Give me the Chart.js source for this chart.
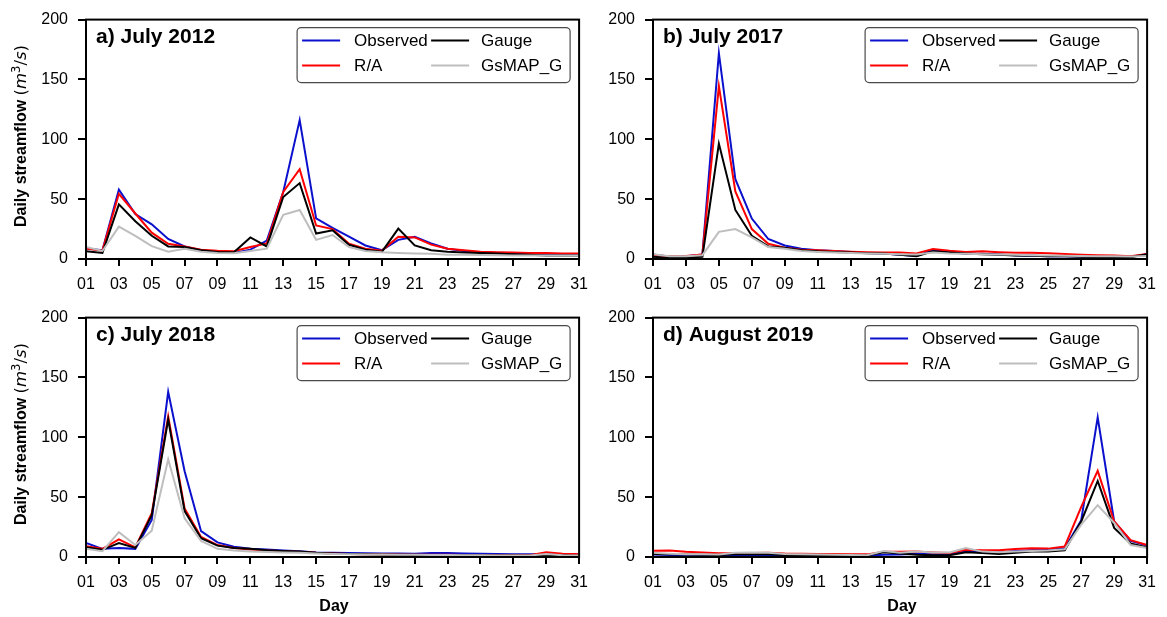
<!DOCTYPE html>
<html>
<head>
<meta charset="utf-8">
<title>Daily streamflow</title>
<script src="https://cdn.jsdelivr.net/npm/chart.js@4.4.1/dist/chart.umd.min.js"></script>
<style>
  html, body { margin: 0; padding: 0; background: #fff; }
  body { position: relative; width: 1167px; height: 617px; overflow: hidden;
         font-family: "Liberation Sans", Arial, sans-serif; color: #000; }
  canvas { position: absolute; }
  .ytitle { position: absolute; left: 20px; white-space: nowrap; font-size: 16px;
            transform: translate(-50%, -50%) rotate(-90deg); }
  .ytitle b { font-weight: bold; }
  .ytitle .unit { font-family: "DejaVu Sans", sans-serif; font-size: 16.5px; }
  .ytitle sup { font-size: 0.7em; vertical-align: 0.5em; line-height: 0; }
  .xtitle { position: absolute; top: 606px; font-size: 16px; font-weight: bold;
            transform: translate(-50%, -50%); }
</style>
</head>
<body>
<canvas id="pa" width="591" height="304" style="left:6px; top:0px"></canvas>
<canvas id="pb" width="592" height="304" style="left:573px; top:0px"></canvas>
<canvas id="pc" width="591" height="304" style="left:6px; top:298px"></canvas>
<canvas id="pd" width="592" height="304" style="left:573px; top:298px"></canvas>

<div class="ytitle" style="top:136px"><b>Daily streamflow</b> <span class="unit">(<i>m</i><sup>3</sup>/<i>s</i>)</span></div>
<div class="ytitle" style="top:434px"><b>Daily streamflow</b> <span class="unit">(<i>m</i><sup>3</sup>/<i>s</i>)</span></div>
<div class="xtitle" style="left:334px">Day</div>
<div class="xtitle" style="left:902px">Day</div>

<script>
// Days of the month and the labelled ticks on the day axis
const days = [1, 2, 3, 4, 5, 6, 7, 8, 9, 10, 11, 12, 13, 14, 15, 16,
              17, 18, 19, 20, 21, 22, 23, 24, 25, 26, 27, 28, 29, 30, 31];
const tickLabels = ['01', '03', '05', '07', '09', '11', '13', '15',
                    '17', '19', '21', '23', '25', '27', '29', '31'];
const yTicks = [0, 50, 100, 150, 200];

const seriesNames = ['Observed', 'R/A', 'Gauge', 'GsMAP_G'];
const panelTitles = ['a) July 2012', 'b) July 2017', 'c) July 2018', 'd) August 2019'];

// a) July 2012 (m3/s)
const observed2012 = [8.7, 7.3, 58, 37.5, 29, 16.7, 10.5, 7.3, 6, 5, 7.8, 15.4, 56, 116, 34, 26,
                      18.6, 11.3, 7.3, 16, 18.6, 13, 8.6, 6.7, 5.7, 5, 4.6, 4, 4, 4, 4];
const ra2012       = [8.7, 7, 54.5, 38, 22, 12.7, 10.5, 7.8, 6.8, 6.5, 10, 13, 56, 75, 28, 25,
                      12.7, 8.6, 7, 18.6, 18, 12, 8.6, 7.3, 6, 5.7, 5.4, 5, 5, 4.6, 4.6];
const gauge2012    = [6.5, 5, 45.6, 31.6, 19.4, 10.5, 10, 7.3, 5.9, 5.6, 18, 10.5, 51.8, 63.4, 21.3, 24,
                      11.9, 7.8, 6, 25.4, 11.3, 7.3, 6, 5.4, 5, 4.6, 4, 3.5, 3, 3, 3];
const gsmap2012    = [10, 6.7, 27, 19.4, 10.8, 6, 8.6, 6, 5, 4.9, 6.7, 8.6, 37, 41, 16, 20,
                      10, 6.7, 5.6, 5, 4.6, 4.3, 3.5, 3.5, 3.3, 3.2, 3, 3, 3, 3, 3];

// b) July 2017
const observed2017 = [3.8, 1.9, 2.4, 3.8, 172, 66.7, 33.8, 16.7, 11.3, 8.6, 7.3, 6.7, 5.9, 5, 4.6, 3.5,
                      2.5, 7.6, 5.4, 4.6, 4.3, 3.8, 3.2, 2.7, 2.4, 2.2, 2, 1.9, 1.9, 1.9, 4];
const ra2017       = [3.2, 2.4, 2.6, 3.8, 144.5, 56.4, 25, 12.7, 9.5, 7.8, 7.3, 6.7, 6, 5.6, 5.4, 5.4,
                      4.6, 8.4, 6.8, 5.9, 6.5, 5.7, 5.2, 5.2, 4.9, 4.1, 3.6, 3.2, 3, 2.4, 4.1];
const gauge2017    = [1.9, 0.8, 1.3, 1.9, 96.4, 41, 19.4, 10.5, 9.5, 7.3, 6.4, 5.9, 5.4, 4.9, 4.6, 3.5,
                      2.4, 6.5, 5.4, 4.6, 4, 3.5, 3, 2.7, 2.4, 2.2, 1.9, 1.6, 1.6, 1.4, 4];
const gsmap2017    = [4, 2.4, 2.4, 3.2, 22.7, 25, 18, 10, 8.6, 6.7, 5.9, 5.4, 5, 4.6, 4.3, 4,
                      3.8, 5.5, 4.6, 4.3, 4, 3.8, 3.5, 3.2, 3, 2.8, 2.6, 2.4, 2.2, 2, 2.5];

// c) July 2018
const observed2018 = [11.7, 6.8, 7.6, 6.8, 31, 138, 71.6, 21.6, 12.2, 8.6, 6.8, 6.2, 5.4, 4.9, 3.8, 3.6,
                      3.3, 3.2, 3, 2.9, 2.8, 3.4, 3.3, 3, 2.8, 2.6, 2.4, 2.2, 2.3, 2.2, 2.2];
const ra2018       = [8.9, 6.8, 14.7, 8.1, 36.5, 117.5, 40.5, 16.8, 10, 7.6, 6.2, 5.4, 4.9, 4.4, 3.5, 3,
                      2.6, 2.4, 2.2, 2, 1.9, 1.9, 1.8, 1.7, 1.6, 1.5, 1.4, 1.4, 4, 2.8, 2.4];
const gauge2018    = [8.1, 6, 11.7, 7.6, 35, 114.8, 38.4, 15.7, 9.5, 7.6, 6.8, 5.7, 5, 4.6, 3.5, 3,
                      2.5, 2.2, 2, 1.9, 1.8, 1.7, 1.6, 1.5, 1.4, 1.3, 1.2, 1.1, 1.6, 1.2, 1];
const gsmap2018    = [7, 4.9, 20.8, 10, 22, 81.6, 32.4, 13.5, 6.8, 5.4, 4.6, 4.1, 3.8, 3.5, 3, 2.6,
                      2.3, 2.1, 2, 1.9, 1.8, 1.7, 1.6, 1.5, 1.4, 1.3, 1.2, 1.2, 2.5, 1.5, 1.3];

// d) August 2019
const observed2019 = [2, 1.6, 1.4, 1.3, 1.2, 1.2, 1.2, 1.2, 1.2, 1.1, 1.1, 1.1, 1.1, 1, 1.8, 2,
                      2.7, 2.2, 2.2, 4.6, 3.8, 3.8, 5, 5.6, 6, 7.4, 30.8, 116.7, 29.7, 13.5, 9.5];
const ra2019       = [5.2, 5.4, 4.3, 3.8, 3.2, 3.2, 3.3, 3.5, 2.9, 2.7, 2.5, 2.5, 2.3, 2.2, 4.3, 4.3,
                      4.6, 3.8, 3.3, 6, 5.6, 5.6, 6.6, 7.4, 7, 8.8, 41.9, 72, 29.7, 14, 10];
const gauge2019    = [2.5, 2.3, 2, 1.8, 1.6, 2.2, 2.4, 2.2, 1.6, 1.5, 1.4, 1.3, 1.3, 1.2, 4, 3,
                      1.9, 1.4, 1.4, 4, 3.3, 2.5, 3.5, 4.5, 4.5, 5.6, 29.7, 63.5, 24.3, 11.3, 8];
const gsmap2019    = [3.5, 2.8, 2.4, 2.2, 2, 3.5, 3.8, 3.5, 2.5, 2.2, 2, 1.8, 1.6, 1.5, 5, 3.5,
                      4.6, 3.8, 3.8, 7.4, 4.5, 4, 4.5, 5, 5.5, 6.5, 27, 43.3, 28.4, 10, 7.6];

// ---- styling ----
const FONT = '"Liberation Sans", Arial, sans-serif';
const lineColors = ['#0b10cc', '#ff0000', '#000000', '#bebebe'];
const drawOrder = [3, 2, 1, 0];   // later series are drawn on top

Chart.defaults.font.family = FONT;
Chart.defaults.font.size = 16;
Chart.defaults.color = '#000';

// Frame, panel title and a two-column legend inside the plot area
const panelDecor = {
  id: 'panelDecor',
  afterDraw(chart, args, opts) {
    const { ctx, chartArea: a } = chart;
    ctx.save();
    ctx.strokeStyle = '#000';
    ctx.lineWidth = 2;
    ctx.strokeRect(a.left, a.top, a.right - a.left, a.bottom - a.top);

    ctx.fillStyle = '#000';
    ctx.font = 'bold 21px ' + FONT;
    ctx.textAlign = 'left';
    ctx.textBaseline = 'alphabetic';
    ctx.fillText(opts.title, a.left + 10, a.top + 23);

    // legend box
    const bw = 273, bh = 55, r = 4;
    const bx = a.right - 9 - bw, by = a.top + 8;
    ctx.beginPath();
    ctx.moveTo(bx + r, by);
    ctx.lineTo(bx + bw - r, by);
    ctx.arcTo(bx + bw, by, bx + bw, by + r, r);
    ctx.lineTo(bx + bw, by + bh - r);
    ctx.arcTo(bx + bw, by + bh, bx + bw - r, by + bh, r);
    ctx.lineTo(bx + r, by + bh);
    ctx.arcTo(bx, by + bh, bx, by + bh - r, r);
    ctx.lineTo(bx, by + r);
    ctx.arcTo(bx, by, bx + r, by, r);
    ctx.closePath();
    ctx.fillStyle = '#fff';
    ctx.fill();
    ctx.strokeStyle = '#4a4a4a';
    ctx.lineWidth = 1.2;
    ctx.stroke();

    ctx.font = '17px ' + FONT;
    ctx.textBaseline = 'middle';
    chart.data.datasets.forEach((ds, i) => {
      const col = Math.floor(i / 2), row = i % 2;
      const lx = bx + 5 + col * 129;
      const ly = by + 13 + row * 25;
      ctx.strokeStyle = ds.borderColor;
      ctx.lineWidth = 2;
      ctx.beginPath();
      ctx.moveTo(lx, ly);
      ctx.lineTo(lx + 38, ly);
      ctx.stroke();
      ctx.fillStyle = '#000';
      ctx.fillText(ds.label, bx + 57 + col * 127, ly + 1);
    });
    ctx.restore();
  }
};

function makePanel(canvasId, title, series) {
  const datasets = series.map((values, i) => ({
    label: seriesNames[i],
    data: values,
    borderColor: lineColors[i],
    backgroundColor: lineColors[i],
    borderWidth: 2,
    pointRadius: 0,
    tension: 0,
    fill: false,
    order: drawOrder[i]
  }));

  new Chart(document.getElementById(canvasId), {
    type: 'line',
    data: { labels: days, datasets },
    options: {
      responsive: false,
      animation: false,
      events: [],
      layout: { padding: { left: 0, top: 12, right: 15, bottom: 0 } },
      plugins: {
        legend: { display: false },
        tooltip: { enabled: false },
        panelDecor: { title }
      },
      scales: {
        x: {
          type: 'linear',
          min: days[0],
          max: days[days.length - 1],
          afterBuildTicks: s => { s.ticks = tickLabels.map(t => ({ value: Number(t) })); },
          afterFit: s => { s.height = 45; },
          ticks: {
            autoSkip: false,
            maxRotation: 0,
            padding: 9,
            font: { size: 16 },
            color: '#000',
            callback: v => tickLabels.find(t => Number(t) === v)
          },
          grid: { drawOnChartArea: false, drawTicks: true, tickLength: 7, color: '#000', lineWidth: 2 },
          border: { display: true, color: '#000', width: 2 }
        },
        y: {
          type: 'linear',
          min: yTicks[0],
          max: yTicks[yTicks.length - 1],
          afterBuildTicks: s => { s.ticks = yTicks.map(v => ({ value: v })); },
          afterFit: s => { s.width = 80; },
          ticks: { padding: 10, font: { size: 16 }, color: '#000' },
          grid: { drawOnChartArea: false, drawTicks: true, tickLength: 8, color: '#000', lineWidth: 2 },
          border: { display: true, color: '#000', width: 2 }
        }
      }
    },
    plugins: [panelDecor]
  });
}

makePanel('pa', panelTitles[0], [observed2012, ra2012, gauge2012, gsmap2012]);
makePanel('pb', panelTitles[1], [observed2017, ra2017, gauge2017, gsmap2017]);
makePanel('pc', panelTitles[2], [observed2018, ra2018, gauge2018, gsmap2018]);
makePanel('pd', panelTitles[3], [observed2019, ra2019, gauge2019, gsmap2019]);
</script>
</body>
</html>
